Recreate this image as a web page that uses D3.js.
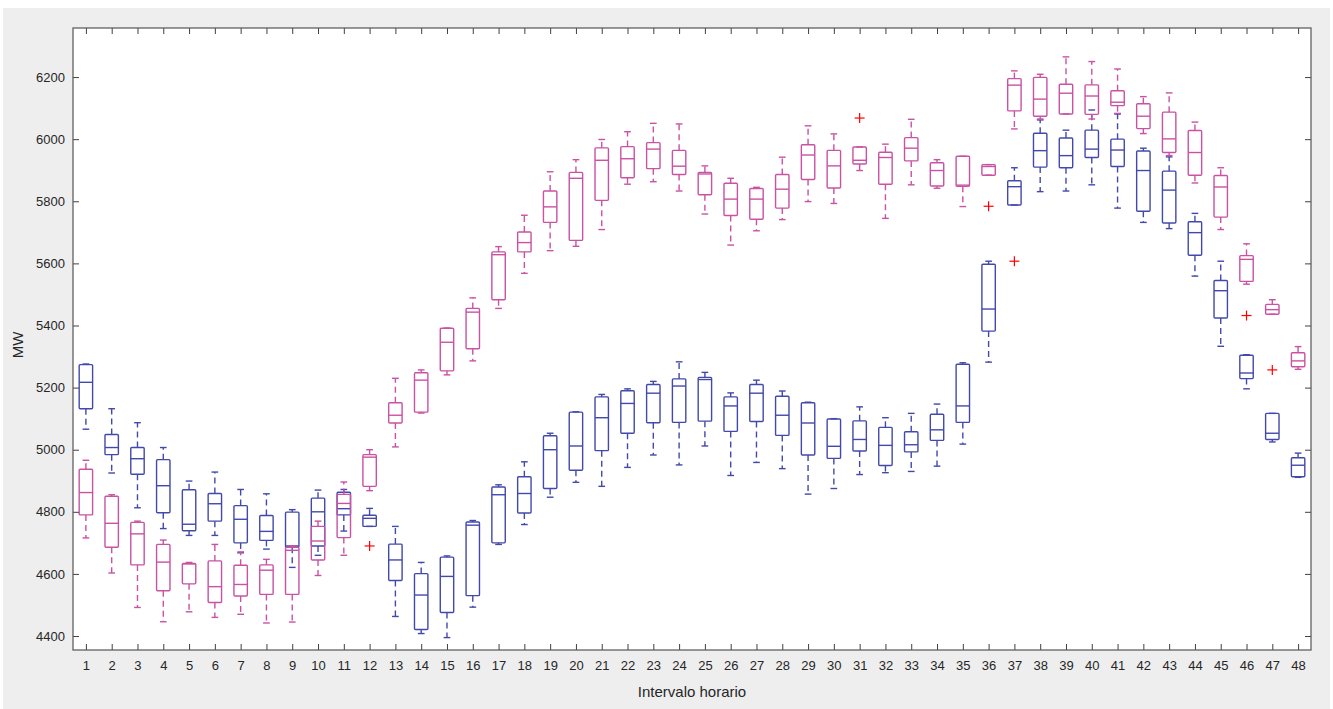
<!DOCTYPE html>
<html>
<head>
<meta charset="utf-8">
<script src="https://cdn.jsdelivr.net/npm/d3@7"></script>
<style>
  body { margin: 0; background: #ffffff; }
  svg { display: block; font-family: "Liberation Sans", Arial, sans-serif; }
</style>
</head>
<body>
<div id="wrapper"></div>
<script>
// 1. Data (MW)
const intervals = d3.range(1, 49)
const yTicks = [4400, 4600, 4800, 5000, 5200, 5400, 5600, 5800, 6000, 6200]

// blue series: [lower whisker, q1, median, q3, upper whisker]
const blueLow  = [5066,4925,4813,4746,4724,4724,4668,4680,4621,4660,4738,4753,4463,4408,4395,4493,4695,4759,4847,4895,4882,4943,4983,4951,5012,4917,4959,4939,4857,4875,4920,4926,4930,4947,5018,5282,5788,5831,5833,5853,5778,5732,5712,5559,5333,5196,5025,4911]
const blueQ1   = [5132,4984,4921,4797,4739,4770,4700,4708,4686,4690,4790,4753,4579,4421,4476,4530,4700,4796,4875,4934,4997,5053,5087,5088,5092,5059,5091,5046,4983,4972,4996,4949,4993,5030,5088,5382,5788,5910,5908,5941,5912,5768,5730,5626,5424,5229,5033,4913]
const blueMed  = [5217,5007,4971,4884,4760,4826,4776,4737,4690,4800,4810,4779,4645,4532,4592,4757,4855,4859,5000,5012,5103,5149,5182,5205,5226,5141,5182,5111,5086,5011,5033,5014,5016,5064,5141,5453,5847,5963,5947,5968,5965,5899,5836,5699,5512,5247,5053,4950]
const blueQ3   = [5274,5049,5007,4968,4871,4859,4820,4788,4799,4844,4863,4789,4696,4601,4654,4767,4880,4913,5045,5121,5170,5190,5210,5228,5233,5170,5210,5172,5151,5099,5093,5072,5058,5114,5275,5597,5866,6019,6004,6029,6000,5962,5897,5734,5545,5304,5117,4974]
const blueHigh = [5276,5132,5087,5007,4899,4928,4872,4858,4807,4870,4872,4811,4753,4637,4658,4772,4887,4961,5053,5122,5178,5196,5220,5283,5249,5183,5224,5189,5153,5100,5138,5103,5117,5147,5280,5607,5908,6062,6029,6094,6081,5971,5943,5761,5607,5306,5117,4989]
const blueOutliers = [[12, 4690], [37, 5607]]

// magenta series
const pinkLow  = [4716,4603,4492,4446,4478,4460,4470,4442,4445,4595,4660,4868,5009,5118,5241,5286,5455,5568,5641,5655,5709,5855,5863,5833,5759,5659,5705,5741,5799,5793,5899,5745,5853,5842,5783,5884,6033,6065,6081,6065,6083,6018,5947,5859,5709,5533,5436,5259]
const pinkQ1   = [4790,4686,4629,4546,4568,4508,4529,4534,4534,4645,4717,4882,5086,5121,5254,5325,5483,5637,5732,5674,5803,5876,5905,5886,5821,5754,5742,5778,5870,5843,5920,5855,5930,5849,5848,5884,6091,6074,6081,6080,6108,6034,5957,5884,5749,5542,5436,5267]
const pinkMed  = [4862,4763,4729,4638,4632,4559,4566,4612,4676,4706,4827,4976,5111,5224,5346,5443,5628,5667,5782,5874,5932,5937,5968,5913,5888,5807,5807,5839,5949,5914,5932,5941,5971,5899,5852,5912,6174,6129,6148,6139,6119,6074,6001,5957,5846,5613,5451,5286]
const pinkQ3   = [4937,4850,4766,4695,4634,4642,4628,4629,4686,4753,4856,4984,5151,5248,5391,5455,5637,5701,5833,5893,5972,5976,5989,5964,5893,5858,5841,5886,5982,5964,5975,5958,6005,5924,5945,5918,6195,6199,6177,6175,6156,6114,6087,6028,5883,5625,5468,5312]
const pinkHigh = [4966,4855,4770,4709,4637,4695,4671,4647,4690,4770,4896,5000,5230,5257,5392,5489,5654,5755,5895,5934,5999,6024,6051,6049,5914,5874,5845,5942,6043,6017,5975,5984,6064,5934,5945,5918,6220,6209,6265,6250,6226,6137,6149,6055,5908,5663,5483,5332]
const pinkOutliers = [[31, 6068], [36, 5784], [46, 5432], [47, 5257]]

const series = [
  { color: "#4249ab", low: blueLow, q1: blueQ1, med: blueMed, q3: blueQ3, high: blueHigh },
  { color: "#c952a3", low: pinkLow, q1: pinkQ1, med: pinkMed, q3: pinkQ3, high: pinkHigh },
]
const outliers = blueOutliers.concat(pinkOutliers)

// 2. Dimensions
const dimensions = {
  width: 1333,
  height: 709,
  margin: { top: 28, right: 22, bottom: 59, left: 73 }
}
dimensions.boundedWidth = dimensions.width - dimensions.margin.left - dimensions.margin.right
dimensions.boundedHeight = dimensions.height - dimensions.margin.top - dimensions.margin.bottom

// 3. Canvas
const wrapper = d3.select("#wrapper")
  .append("svg")
  .attr("width", dimensions.width)
  .attr("height", dimensions.height)

wrapper.append("rect")
  .attr("x", 3)
  .attr("y", 8)
  .attr("width", dimensions.width - 6)
  .attr("height", dimensions.height - 8)
  .attr("fill", "#eeeeee")

const bounds = wrapper.append("g")
  .attr("transform", `translate(${dimensions.margin.left},${dimensions.margin.top})`)

bounds.append("rect")
  .attr("width", dimensions.boundedWidth)
  .attr("height", dimensions.boundedHeight)
  .attr("fill", "#ffffff")

// 4. Scales
const xScale = d3.scaleLinear()
  .domain([0.5, 48.5])
  .range([0, dimensions.boundedWidth])

const yScale = d3.scaleLinear()
  .domain([4355, 6358])
  .range([dimensions.boundedHeight, 0])

const step = xScale(2) - xScale(1)
const boxW = step * 0.52
const capW = boxW * 0.5

// 5. Boxes
series.forEach(s => {
  const g = bounds.append("g")
    .attr("stroke", s.color)
    .attr("stroke-width", 1.4)
    .attr("fill", "none")

  const items = g.selectAll("g")
    .data(intervals.map((d, i) => ({
      x: d, low: s.low[i], q1: s.q1[i], med: s.med[i], q3: s.q3[i], high: s.high[i]
    })))
    .join("g")

  // whiskers (dashed)
  items.append("line")
    .attr("x1", d => xScale(d.x)).attr("x2", d => xScale(d.x))
    .attr("y1", d => yScale(d.q3)).attr("y2", d => yScale(d.high))
    .attr("stroke-dasharray", "6 4")
  items.append("line")
    .attr("x1", d => xScale(d.x)).attr("x2", d => xScale(d.x))
    .attr("y1", d => yScale(d.q1)).attr("y2", d => yScale(d.low))
    .attr("stroke-dasharray", "6 4")

  // caps
  items.append("line")
    .attr("x1", d => xScale(d.x) - capW / 2).attr("x2", d => xScale(d.x) + capW / 2)
    .attr("y1", d => yScale(d.high)).attr("y2", d => yScale(d.high))
  items.append("line")
    .attr("x1", d => xScale(d.x) - capW / 2).attr("x2", d => xScale(d.x) + capW / 2)
    .attr("y1", d => yScale(d.low)).attr("y2", d => yScale(d.low))

  // box
  items.append("rect")
    .attr("x", d => xScale(d.x) - boxW / 2)
    .attr("y", d => yScale(d.q3))
    .attr("width", boxW)
    .attr("height", d => yScale(d.q1) - yScale(d.q3))
    .attr("rx", 1)

  // median
  items.append("line")
    .attr("x1", d => xScale(d.x) - boxW / 2).attr("x2", d => xScale(d.x) + boxW / 2)
    .attr("y1", d => yScale(d.med)).attr("y2", d => yScale(d.med))
})

// outliers as red +
const plus = bounds.append("g")
  .attr("stroke", "#ff0000")
  .attr("stroke-width", 1.2)
  .selectAll("g")
  .data(outliers)
  .join("g")
  .attr("transform", d => `translate(${xScale(d[0])},${yScale(d[1])})`)
plus.append("line").attr("x1", -5).attr("x2", 5)
plus.append("line").attr("y1", -5).attr("y2", 5)

// 6. Axes (ticks inside on all four sides)
const axisColor = "#262626"
const tickLen = 6

const styleAxis = axis => {
  axis.select(".domain").remove()
  axis.selectAll(".tick line").attr("stroke", "#404040")
  axis.selectAll(".tick text")
    .attr("fill", axisColor)
    .style("font-size", "13px")
}

const xAxis = bounds.append("g")
  .attr("transform", `translate(0,${dimensions.boundedHeight})`)
  .call(d3.axisBottom(xScale).tickValues(intervals).tickFormat(d3.format("d"))
    .tickSizeInner(-tickLen).tickSizeOuter(0).tickPadding(11))
styleAxis(xAxis)

const xAxisTop = bounds.append("g")
  .call(d3.axisTop(xScale).tickValues(intervals).tickFormat("")
    .tickSizeInner(-tickLen).tickSizeOuter(0))
styleAxis(xAxisTop)

const yAxis = bounds.append("g")
  .call(d3.axisLeft(yScale).tickValues(yTicks).tickFormat(d3.format("d"))
    .tickSizeInner(-tickLen).tickSizeOuter(0).tickPadding(8))
styleAxis(yAxis)

const yAxisRight = bounds.append("g")
  .attr("transform", `translate(${dimensions.boundedWidth},0)`)
  .call(d3.axisRight(yScale).tickValues(yTicks).tickFormat("")
    .tickSizeInner(-tickLen).tickSizeOuter(0))
styleAxis(yAxisRight)

// frame
bounds.append("rect")
  .attr("width", dimensions.boundedWidth)
  .attr("height", dimensions.boundedHeight)
  .attr("fill", "none")
  .attr("stroke", "#555555")
  .attr("stroke-width", 1.2)

// labels
bounds.append("text")
  .attr("x", dimensions.boundedWidth / 2)
  .attr("y", dimensions.boundedHeight + 47)
  .attr("text-anchor", "middle")
  .attr("fill", axisColor)
  .style("font-size", "15px")
  .text("Intervalo horario")

bounds.append("text")
  .attr("transform", `translate(${-50},${dimensions.boundedHeight / 2 + 6}) rotate(-90)`)
  .attr("text-anchor", "middle")
  .attr("fill", axisColor)
  .style("font-size", "15px")
  .text("MW")
</script>
</body>
</html>
